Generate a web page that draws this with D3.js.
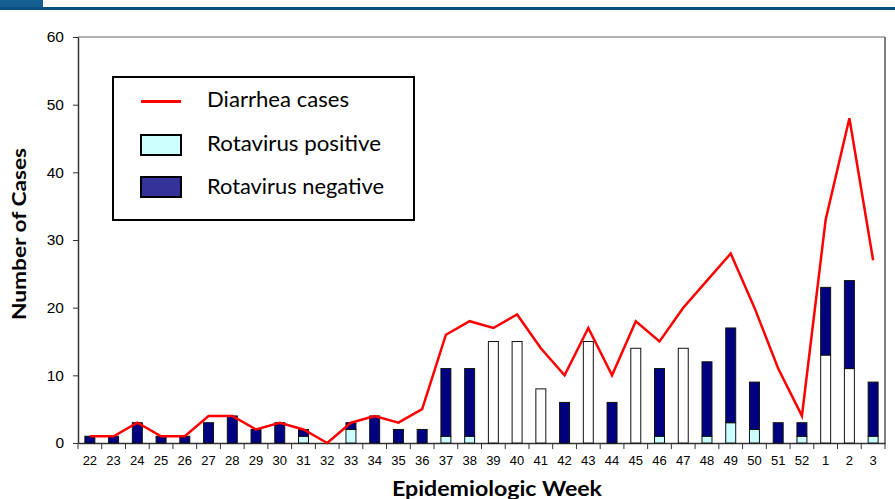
<!DOCTYPE html>
<html><head><meta charset="utf-8">
<script src="https://cdn.jsdelivr.net/npm/d3@7"></script>
<style>body{margin:0;background:#fff}svg{display:block}</style>
</head><body>
<svg id="c" width="895" height="499"></svg>
<script>
const weeks = ["22","23","24","25","26","27","28","29","30","31","32","33","34","35","36","37","38","39","40","41","42","43","44","45","46","47","48","49","50","51","52","1","2","3"];
const diarrhea = [1,1,3,1,1,4,4,2,3,2,0,3,4,3,5,16,18,17,19,14,10,17,10,18,15,20,24,28,20,11,4,33,48,27];
const rotaPositive = [0,0,0,0,0,0,0,0,0,1,0,2,0,0,0,1,1,0,0,0,0,0,0,0,1,0,1,3,2,0,1,0,0,1];
const notTested = [0,0,0,0,0,0,0,0,0,0,0,0,0,0,0,0,0,15,15,8,0,15,0,14,0,14,0,0,0,0,0,13,11,0];
const rotaNegative = [1,1,3,1,1,3,4,2,3,1,0,1,4,2,2,10,10,0,0,0,6,0,6,0,10,0,11,14,7,3,2,10,13,8];
const yTicks = [0,10,20,30,40,50,60];

const svg = d3.select("#c");
// header
svg.append("rect").attr("x",0).attr("y",0).attr("width",43).attr("height",8).attr("fill","#135f91");
svg.append("rect").attr("x",0).attr("y",7).attr("width",895).attr("height",3).attr("fill","#0b5080");

const L=78, R=885, T=37, B=443;
const x = d3.scaleBand().domain(weeks).range([L,R]).paddingInner(0.58).paddingOuter(0.29);
const xb = d3.scaleBand().domain(weeks).range([L,R]);
const y = d3.scaleLinear().domain([0,60]).range([B,T]);

// frame top and right
svg.append("line").attr("x1",L).attr("x2",R).attr("y1",T).attr("y2",T).attr("stroke","#999").attr("stroke-width",1.5);
svg.append("line").attr("x1",R).attr("x2",R).attr("y1",T).attr("y2",B).attr("stroke","#555").attr("stroke-width",1.5);

// y axis
const ya = svg.append("g").attr("transform",`translate(${L},0)`)
  .call(d3.axisLeft(y).tickValues(yTicks).tickSize(5).tickPadding(9).tickSizeOuter(0));
ya.select(".domain").attr("stroke","#333").attr("stroke-width",1.5);
ya.selectAll(".tick line").attr("stroke","#333");
ya.selectAll("text").attr("font-family","'Liberation Sans',Arial,sans-serif").attr("font-size",15.5).attr("fill","#000");

// x axis
const xa = svg.append("g").attr("transform",`translate(0,${B})`)
  .call(d3.axisBottom(xb).tickSize(0).tickPadding(13).tickSizeOuter(0));
xa.select(".domain").attr("stroke","#333").attr("stroke-width",1.5);
xa.selectAll("text").attr("font-family","'Liberation Sans',Arial,sans-serif").attr("font-size",13).attr("fill","#000");
// ticks at band boundaries
svg.append("g").selectAll("line").data(weeks).join("line")
  .attr("x1",d=>xb(d)).attr("x2",d=>xb(d)).attr("y1",B).attr("y2",B+6)
  .attr("stroke","#333").attr("stroke-width",1);
svg.append("line").attr("x1",R).attr("x2",R).attr("y1",B).attr("y2",B+6).attr("stroke","#333");

// stacked bars
const rows = weeks.map((w,i)=>({week:w,pos:rotaPositive[i],nt:notTested[i],neg:rotaNegative[i]}));
const stack = d3.stack().keys(["pos","nt","neg"])(rows);
const fills = {pos:"#ccffff", nt:"#ffffff", neg:"#000080"};
svg.append("g").selectAll("g").data(stack).join("g")
  .attr("fill",s=>fills[s.key])
  .selectAll("rect").data(s=>s.filter(d=>d[1]-d[0]>0)).join("rect")
  .attr("x",d=>x(d.data.week)).attr("width",x.bandwidth())
  .attr("y",d=>y(d[1])).attr("height",d=>y(d[0])-y(d[1]))
  .attr("stroke","#111").attr("stroke-width",1);

// line
const line = d3.line().x((d,i)=>xb(weeks[i])+xb.bandwidth()/2).y(d=>y(d));
svg.append("path").datum(diarrhea).attr("d",line).attr("fill","none")
  .attr("stroke","#ff0000").attr("stroke-width",2.5).attr("stroke-linejoin","miter");

// legend
const lg = svg.append("g");
lg.append("rect").attr("x",113).attr("y",77).attr("width",301).attr("height",143)
  .attr("fill","#fff").attr("stroke","#000").attr("stroke-width",2);
lg.append("line").attr("x1",141).attr("x2",181).attr("y1",101.5).attr("y2",101.5).attr("stroke","#ff0000").attr("stroke-width",3);
lg.append("rect").attr("x",141).attr("y",135).attr("width",40).attr("height",20).attr("fill","#ccffff").attr("stroke","#000").attr("stroke-width",2);
lg.append("rect").attr("x",141).attr("y",177).attr("width",40).attr("height",20).attr("fill","#333399").attr("stroke","#000").attr("stroke-width",2);
const lt = [["Diarrhea cases",107,142],["Rotavirus positive",151,174],["Rotavirus negative",193.5,177]];
lg.selectAll("text").data(lt).join("text").attr("x",207).attr("y",d=>d[1]).text(d=>d[0])
  .attr("textLength",d=>d[2]).attr("lengthAdjust","spacingAndGlyphs")
  .attr("font-family","Lato,'Open Sans',sans-serif").attr("font-size",21).attr("fill","#000");

// axis titles
svg.append("text").attr("x",497).attr("y",496).attr("text-anchor","middle")
  .attr("textLength",210).attr("lengthAdjust","spacingAndGlyphs")
  .attr("font-family","Lato,sans-serif").attr("font-weight","bold").attr("font-size",20).text("Epidemiologic Week");
svg.append("text").attr("transform","translate(26,234) rotate(-90)").attr("text-anchor","middle")
  .attr("textLength",172).attr("lengthAdjust","spacingAndGlyphs")
  .attr("font-family","Lato,sans-serif").attr("font-weight","bold").attr("font-size",19).text("Number of Cases");
</script>
</body></html>
